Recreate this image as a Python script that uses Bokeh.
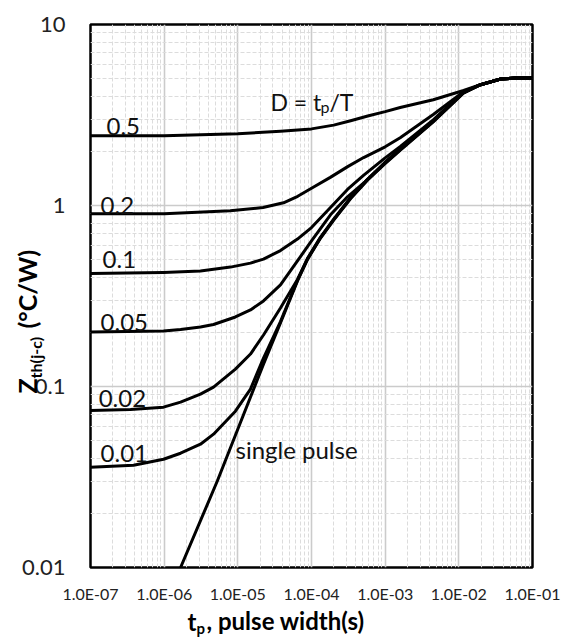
from bokeh.plotting import figure
from bokeh.models import FixedTicker, Label, ColumnDataSource, Title
from bokeh.embed import file_html
from bokeh.resources import INLINE
from bokeh.core.properties import value

# ---------------- data ----------------
x_ticks = [1e-7, 1e-6, 1e-5, 1e-4, 1e-3, 1e-2, 1e-1]
x_tick_labels = ["1.0E-07", "1.0E-06", "1.0E-05", "1.0E-04", "1.0E-03", "1.0E-02", "1.0E-01"]
y_ticks = [0.01, 0.1, 1.0, 10.0]
y_tick_labels = ["0.01", "0.1", "1", "10"]

# common tail where all curves merge
tail_t = [1.97e-2, 3.7e-2, 5.8e-2, 1e-1]
tail_z = [4.65, 5.0, 5.06, 5.06]

d05_t = [1e-7, 1e-6, 1e-5, 3.8e-5, 1e-4, 2e-4, 3.4e-4, 5.8e-4, 1e-3, 1.6e-3, 4.5e-3, 1.16e-2]
d05_z = [2.43, 2.43, 2.49, 2.57, 2.65, 2.78, 2.94, 3.12, 3.30, 3.48, 3.84, 4.32]

d02_t = [1e-7, 1e-6, 7.9e-6, 2.2e-5, 4.17e-5, 6.5e-5, 1e-4, 1.8e-4, 3.1e-4, 5.1e-4, 1e-3, 1.6e-3, 4.5e-3, 1.16e-2]
d02_z = [0.90, 0.90, 0.935, 0.975, 1.035, 1.124, 1.245, 1.43, 1.64, 1.84, 2.11, 2.37, 3.18, 4.26]

d01_t = [1e-7, 9.8e-7, 3.11e-6, 7.94e-6, 1.485e-5, 2.23e-5, 3.79e-5, 6.45e-5, 1e-4, 1.81e-4, 3.08e-4, 5.08e-4, 9.8e-4, 1.61e-3, 4.53e-3, 1.156e-2]
d01_z = [0.4204, 0.4269, 0.4347, 0.4567, 0.4806, 0.5057, 0.5636, 0.6527, 0.7553, 0.975, 1.226, 1.466, 1.820, 2.121, 2.981, 4.232]

d005_t = [1e-7, 9.8e-7, 1.67e-6, 3.11e-6, 4.68e-6, 9.27e-6, 1.485e-5, 2.23e-5, 3.79e-5, 6.45e-5, 1e-4, 1.81e-4, 3.08e-4, 5.08e-4, 9.8e-4, 1.61e-3, 4.53e-3, 1.156e-2]
d005_z = [0.2000, 0.2026, 0.2065, 0.2132, 0.2201, 0.2422, 0.2647, 0.2970, 0.3640, 0.4943, 0.6377, 0.8882, 1.117, 1.327, 1.723, 2.060, 2.950, 4.215]

d002_t = [1e-7, 3.49e-7, 9.8e-7, 1.67e-6, 3.11e-6, 4.68e-6, 9.27e-6, 1.485e-5, 2.23e-5, 3.79e-5, 6.45e-5, 8.83e-5, 1.32e-4, 1.99e-4, 3.38e-4, 5.75e-4, 9.8e-4, 1.61e-3, 4.53e-3, 1.156e-2]
d002_z = [0.07375, 0.07452, 0.07691, 0.08196, 0.09078, 0.09925, 0.1248, 0.1511, 0.1925, 0.2716, 0.3905, 0.5103, 0.6669, 0.8387, 1.1030, 1.3963, 1.7122, 2.0464, 2.9349, 4.205]

d001_t = [1e-7, 3.84e-7, 9.8e-7, 1.67e-6, 3.11e-6, 4.68e-6, 9.27e-6, 1.485e-5, 2.23e-5, 3.79e-5, 6.45e-5, 8.83e-5, 1.32e-4, 1.99e-4, 3.38e-4, 5.75e-4, 9.8e-4, 1.61e-3, 4.53e-3, 1.156e-2]
d001_z = [0.03581, 0.03673, 0.03965, 0.04279, 0.04799, 0.05452, 0.07306, 0.09673, 0.1436, 0.2286, 0.3856, 0.5070, 0.6626, 0.8335, 1.0961, 1.3874, 1.7016, 2.0339, 2.9199, 4.195]

single_t = [1.67e-6, 5.25e-6, 9.27e-6, 2.23e-5, 3.79e-5, 6.45e-5, 8.83e-5, 1.32e-4, 1.99e-4, 3.38e-4, 5.75e-4, 9.8e-4, 1.61e-3, 4.53e-3, 1.156e-2]
single_z = [0.01, 0.02996, 0.05383, 0.1330, 0.2242, 0.3831, 0.5038, 0.6585, 0.8283, 1.0891, 1.3788, 1.6904, 2.0208, 2.9051, 4.178]

curve_labels = ["0.5", "0.2", "0.1", "0.05", "0.02", "0.01", "single pulse"]
curve_label_t = [1.65e-7, 1.37e-7, 1.46e-7, 1.37e-7, 1.29e-7, 1.37e-7, 9.3e-6]
curve_label_z = [2.73, 0.997, 0.506, 0.227, 0.0863, 0.0426, 0.0451]

FONT = "Lato"

p = figure(x_axis_type="log", y_axis_type="log",
           x_range=(1e-7, 1e-1), y_range=(0.01, 10),
           frame_width=442, frame_height=543,
           min_border_left=90, min_border_right=43,
           min_border_top=24, min_border_bottom=72,
           output_backend="svg", toolbar_location=None,
           background_fill_color="white", border_fill_color="white")

minor_x = [m * 10.0 ** e for e in range(-7, -1) for m in range(2, 10)]
minor_y = [m * 10.0 ** e for e in range(-2, 1) for m in range(2, 10)]
xt = FixedTicker(ticks=x_ticks, minor_ticks=minor_x)
yt = FixedTicker(ticks=y_ticks, minor_ticks=minor_y)
p.xaxis.ticker = xt
p.yaxis.ticker = yt
p.xgrid.ticker = xt
p.ygrid.ticker = yt
p.xaxis.major_label_overrides = dict(zip(x_ticks, x_tick_labels))
p.yaxis.major_label_overrides = dict(zip(y_ticks, y_tick_labels))

for ax in (p.xaxis, p.yaxis):
    ax.axis_line_color = None
    ax.major_tick_line_color = None
    ax.minor_tick_line_color = None
    ax.major_tick_out = 0
    ax.major_tick_in = 0
    ax.minor_tick_out = 0
    ax.minor_tick_in = 0
    ax.major_label_text_font = FONT
    ax.major_label_text_color = "#222222"
p.xaxis.major_label_text_font_size = "16px"
p.yaxis.major_label_text_font_size = "22px"
p.xaxis.major_label_standoff = 16
p.yaxis.major_label_standoff = 25

for g in (p.xgrid, p.ygrid):
    g.grid_line_color = "#cbcbcb"
    g.grid_line_width = 1.6
    g.minor_grid_line_color = "#dcdcdc"
    g.minor_grid_line_width = 1
    g.minor_grid_line_dash = "4 2"

p.outline_line_color = "black"
p.outline_line_width = 2.5

curves = [(d05_t, d05_z), (d02_t, d02_z), (d01_t, d01_z), (d005_t, d005_z),
          (d002_t, d002_z), (d001_t, d001_z), (single_t, single_z)]
for t, z in curves:
    p.line(t + tail_t, z + tail_z, line_color="black", line_width=3, line_join="round")

src = ColumnDataSource(dict(t=curve_label_t, z=curve_label_z, label=curve_labels))
p.text(x="t", y="z", text="label", source=src, text_font=value(FONT),
       text_font_size="24px", text_align="left", text_baseline="alphabetic",
       text_color="#111111")

# D = t_p/T
p.add_layout(Label(x=2.77e-5, y=3.74, text="D = t", text_font=FONT, text_font_size="23px",
                   text_align="left", text_baseline="alphabetic", text_color="#111111"))
p.add_layout(Label(x=2.77e-5, y=3.74, x_offset=50, y_offset=-5, text="p", text_font=FONT,
                   text_font_size="16px", text_align="left", text_baseline="alphabetic",
                   text_color="#111111"))
p.add_layout(Label(x=2.77e-5, y=3.74, x_offset=59, text="/T", text_font=FONT,
                   text_font_size="23px", text_align="left", text_baseline="alphabetic",
                   text_color="#111111"))

# axis titles as Title annotations in the side panels
tstyle = dict(text_font=FONT, text_font_style="bold", text_color="black", align="left")
# x title: t_p, pulse width(s)
p.add_layout(Title(text=", pulse width(s)", text_font_size="24px", offset=116,
                   vertical_align="top", standoff=0, **tstyle), "below")
p.add_layout(Title(text="t", text_font_size="24px", offset=97,
                   vertical_align="top", standoff=-60, **tstyle), "below")
p.add_layout(Title(text="p", text_font_size="15px", offset=106,
                   vertical_align="top", standoff=-36, **tstyle), "below")
# y title: Z_th(j-c) (°C/W)
p.add_layout(Title(text="Z", text_font_size="25px", offset=174,
                   vertical_align="bottom", standoff=-44, **tstyle), "left")
p.add_layout(Title(text="th(j-c)", text_font_size="16px", offset=189,
                   vertical_align="bottom", standoff=-50, **tstyle), "left")
p.add_layout(Title(text="(°C/W)", text_font_size="25px", offset=239,
                   vertical_align="bottom", standoff=-44, **tstyle), "left")

open("out.html", "w").write(file_html(p, INLINE))
